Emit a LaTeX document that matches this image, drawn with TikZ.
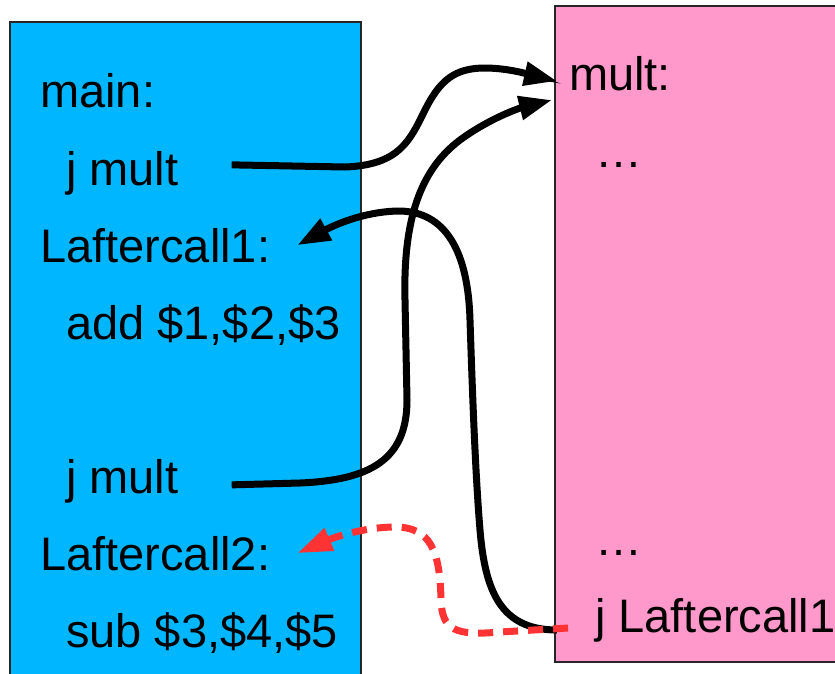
\documentclass[tikz,border=0pt]{standalone}
\usepackage{fontspec}
\setmainfont{Liberation Sans}
\usetikzlibrary{arrows.meta}
\definecolor{mainblue}{RGB}{0,183,255}
\definecolor{multpink}{RGB}{255,153,204}
\definecolor{retred}{RGB}{255,51,51}
\begin{document}
\begin{tikzpicture}[x=1pt,y=-1pt,
  code/.style={anchor=base west, inner sep=0pt, font=\fontsize{47}{56}\selectfont},
  codebox/.style={draw=black!85, line width=1.5pt, anchor=north west, inner sep=0pt},
  jump/.style={line width=7pt, line cap=butt, -{Triangle[length=33pt,width=23pt]}},
  ret/.style={line width=7pt, draw=retred, dash pattern=on 15pt off 10pt,
              -{Triangle[length=35pt,width=23pt,fill=retred]}}]
  \useasboundingbox (0,0) rectangle (835,673);
  \fill[white] (0,0) rectangle (835,673);
  \clip (0,0) rectangle (835,673);

  % code blocks
  \node[codebox, fill=mainblue, minimum width=351pt, minimum height=700pt] (mainbox) at (9,21) {};
  \node[codebox, fill=multpink, minimum width=350pt, minimum height=656pt] (multbox) at (554,5) {};

  % main
  \node[code] (lmain)  at (40,107) {main:};
  \node[code] (jm1)    at (66,185) {j mult};
  \node[code] (lac1)   at (40,262) {Laftercall1:};
  \node[code] (add)    at (66,339) {add \$1,\$2,\$3};
  \node[code] (jm2)    at (66,493) {j mult};
  \node[code] (lac2)   at (40,570) {Laftercall2:};
  \node[code] (sub)    at (66,647) {sub \$3,\$4,\$5};

  % mult
  \node[code] (lmult)  at (569,90)  {mult:};
  \node[code] (dots1)  at (595,167) {…};
  \node[code] (dots2)  at (595,555) {…};
  \node[code] (jret)   at (595,632) {j Laftercall1};

  % connector ends
  \coordinate (jm1out)  at ([xshift=53pt,yshift=8pt]jm1.east);
  \coordinate (jm2out)  at ([xshift=53pt,yshift=-4pt]jm2.east);
  \coordinate (multin1) at (557,81);
  \coordinate (multin2) at (552,100);
  \coordinate (jretout) at (557,630);
  \coordinate (jret2)   at (568,628);
  \coordinate (lac1in)  at ([xshift=27pt]lac1.east);
  \coordinate (lac2in)  at ([xshift=27pt]lac2.east);

  % jumps into mult
  \draw[jump] (jm1out) -- (345,167) .. controls (400,165) and (410,140) .. (425,110)
              .. controls (440,80) and (455,68) .. (485,68)
              .. controls (510,68) and (535,76) .. (multin1);
  \draw[jump] (jm2out) -- (300,483) .. controls (370,480) and (407,460) .. (407,400)
              -- (405,300) .. controls (403,220) and (420,170) .. (460,140)
              .. controls (490,118) and (520,108) .. (multin2);

  % returns
  \draw[jump] (jretout) .. controls (500,630) and (485,590) .. (480,530)
              .. controls (475,470) and (472,380) .. (470,320)
              .. controls (468,250) and (445,212) .. (400,211)
              .. controls (370,211) and (340,222) .. (lac1in);
  \draw[ret] (jret2) -- (500,632) .. controls (455,636) and (442,630) .. (441,600)
             .. controls (440,550) and (430,527) .. (395,527)
             .. controls (365,527) and (335,537) .. (lac2in);
\end{tikzpicture}
\end{document}
